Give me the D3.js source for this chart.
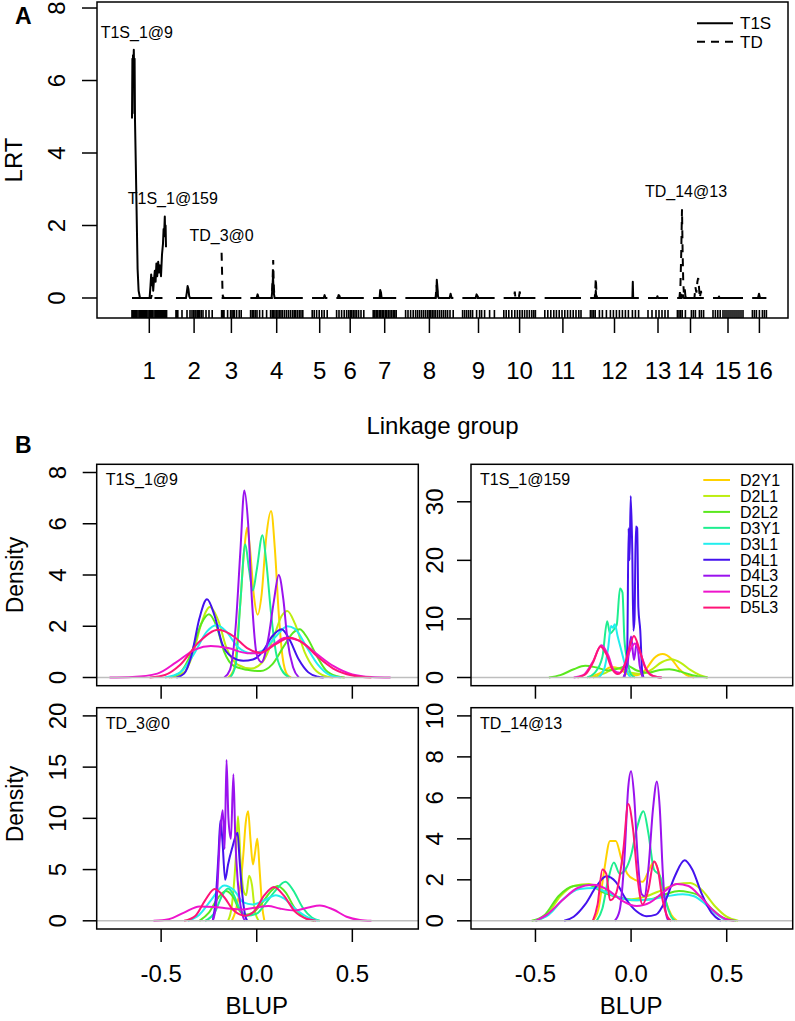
<!DOCTYPE html>
<html><head><meta charset="utf-8">
<script src="https://cdn.jsdelivr.net/npm/d3@7"></script>
<style>
body{margin:0;background:#fff}
svg{display:block}
text{font-family:"Liberation Sans",Arial,Helvetica,sans-serif;fill:#000}
</style>
</head><body>
<svg id="c" width="795" height="1021"></svg>
<script>
// ---------------- DATA: panel A ----------------
const groups = ["1","2","3","4","5","6","7","8","9","10","11","12","13","14","15","16"];
const groupLengths = [173,181,98,261,75,136,115,238,159,158,181,241,100,131,150,70];
const groupGap = 47;
const lrtTicks = [0,2,4,6,8];
const markerPos = [
 [0,3,6,9,13,18,24,30,36,41,47,52,58,63,69,74,80,86,92,97,103,110,116,121,127,132,138,143,149,154,159,164,169,173],
 [0,3,6,9,30,55,70,80,88,95,100,108,112,118,126,135,150,165,181],
 [0,4,8,12,30,45,52,58,64,75,88,98],
 [0,8,16,24,32,45,60,80,100,108,115,122,130,137,145,152,160,170,180,190,200,210,218,226,235,244,252,261],
 [0,10,22,35,48,60,75],
 [0,12,25,38,50,60,68,76,84,92,100,110,122,136],
 [0,8,15,22,30,38,45,52,60,68,76,84,92,100,108,115],
 [0,12,25,38,50,60,70,80,90,100,110,118,126,134,142,150,160,170,180,190,200,210,222,238],
 [0,10,20,30,40,50,70,85,95,110,135,159],
 [0,12,25,40,55,68,80,92,104,116,128,140,150,158],
 [0,15,30,45,58,72,86,100,114,128,142,156,170,181],
 [0,8,16,24,45,60,80,100,115,130,145,160,175,190,210,225,241],
 [0,20,40,55,70,85,100],
 [0,8,16,24,40,70,80,90,110,120,131],
 [0,12,24,36,50,60,70,80,90,100,110,120,130,140,150],
 [0,10,20,35,50,60,70]
];
const t1sProfile = [
 [[0,4.95],[2,6.6],[3,5.1],[5,6.7],[7,6.3],[9,6.85],[11,6.2],[13,6.6],[15,4.9],[19,3.7],[23,2.4],[28,0.8],[33,0.2],[40,0],[88,0],[92,0.3],[96,0.65],[99,0.35],[103,0.55],[106,0.2],[110,0.5],[114,0.75],[118,0.45],[122,0.95],[126,0.6],[131,1.0],[135,0.7],[140,0.9],[145,0.6],[150,1.2],[155,1.5],[158,1.9],[161,1.8],[164,2.25],[166,1.7],[168,2.0],[170,1.4]],
 [[0,0],[50,0],[54,0.15],[58,0.33],[62,0.25],[66,0.05],[70,0],[181,0]],
 [[0,0],[5,0],[8,0.04],[11,0],[98,0]],
 [[0,0],[30,0],[35,0.1],[40,0],[105,0],[109,0.25],[112,0.6],[114,0.35],[117,0.1],[120,0],[261,0]],
 [[0,0],[58,0],[62,0.08],[66,0],[75,0]],
 [[0,0],[6,0],[10,0.08],[14,0.06],[18,0],[136,0]],
 [[0,0],[32,0],[35,0.22],[39,0.15],[42,0],[115,0]],
 [[0,0],[150,0],[154,0.1],[156,0.5],[159,0.3],[162,0.05],[165,0],[220,0],[225,0.12],[230,0],[238,0]],
 [[0,0],[65,0],[70,0.1],[75,0.05],[80,0],[159,0]],
 [[0,0],[158,0]],
 [[0,0],[181,0]],
 [[0,0],[24,0],[27,0.2],[30,0],[210,0],[212,0.45],[214,0],[241,0]],
 [[0,0],[44,0],[47,0.05],[50,0],[100,0]],
 [[0,0],[15,0],[18,0.1],[22,0],[28,0.08],[32,0],[131,0]],
 [[0,0],[27,0],[30,0.04],[33,0],[150,0]],
 [[0,0],[28,0],[33,0.12],[38,0],[70,0]]
];
const tdProfile = [
 [[0,0],[95,0],[100,0.1],[105,0],[173,0]],
 [[0,0],[181,0]],
 [[0,1.25],[2,0.8],[4,0.3],[6,0.05],[8,0],[98,0]],
 [[0,0],[106,0],[110,0.5],[113,1.05],[116,0.3],[120,0],[261,0]],
 [[0,0],[75,0]],
 [[0,0],[136,0]],
 [[0,0],[115,0]],
 [[0,0],[150,0],[155,0.35],[158,0.2],[161,0],[238,0]],
 [[0,0],[159,0]],
 [[0,0],[52,0],[55,0.18],[58,0],[75,0],[80,0.18],[83,0],[158,0]],
 [[0,0],[181,0]],
 [[0,0],[22,0],[25,0.3],[27,0.55],[30,0.2],[33,0],[241,0]],
 [[0,0],[100,0]],
 [[0,0],[10,0],[15,0.3],[19,1.2],[23,2.45],[26,1.3],[29,0.5],[32,0.15],[36,0.3],[40,0.05],[44,0],[85,0],[90,0.3],[95,0.15],[100,0.45],[104,0.55],[108,0.3],[112,0],[118,0.2],[121,0],[131,0]],
 [[0,0],[150,0]],
 [[0,0],[70,0]]
];
const peakLabels = ["T1S_1@9","T1S_1@159","TD_3@0","TD_14@13"];
const labelGroup = [1,1,3,14];
const labelPos = [9,164,0,23];
const labelLRT = [6.85,2.25,1.25,2.45];
const profileNames = ["T1S","TD"];

// ---------------- DATA: panel B ----------------
const series = ["D2Y1","D2L1","D2L2","D3Y1","D3L1","D4L1","D4L3","D5L2","D5L3"];
const seriesColors = ["#FFD200","#BDEE10","#5AE81E","#1EEE90","#22EEEE","#4412EE","#9A12EE","#EE14CC","#FF1477"];
const panelTitles = ["T1S_1@9","T1S_1@159","TD_3@0","TD_14@13"];
const panelYMax = [8,35,20,10];
const panelYTicks = [[0,2,4,6,8],[0,10,20,30],[0,5,10,15,20],[0,2,4,6,8,10]];
const blupTicks = [-0.5,0.0,0.5];

const densT1S_1_9 = [
 [[-0.15,0],[-0.12,0.3],[-0.09,2.5],[-0.065,5.0],[-0.05,5.85],[-0.035,5.0],[-0.015,3.2],[0.005,2.45],[0.025,3.2],[0.05,5.5],[0.075,6.5],[0.095,5.0],[0.115,2.5],[0.135,0.8],[0.16,0.1],[0.18,0]],
 [[-0.45,0],[-0.38,0.2],[-0.33,1.0],[-0.29,2.1],[-0.245,2.75],[-0.2,2.2],[-0.16,1.2],[-0.1,0.5],[-0.03,0.35],[0.03,0.6],[0.09,1.6],[0.13,2.4],[0.16,2.6],[0.2,2.1],[0.25,1.0],[0.3,0.35],[0.36,0.05],[0.4,0]],
 [[-0.46,0],[-0.4,0.2],[-0.34,1.0],[-0.29,2.1],[-0.25,2.47],[-0.21,2.0],[-0.17,1.0],[-0.12,0.45],[-0.05,0.3],[0.02,0.25],[0.08,0.5],[0.14,1.2],[0.19,1.75],[0.225,1.88],[0.26,1.6],[0.31,0.9],[0.36,0.3],[0.42,0.05],[0.46,0]],
 [[-0.14,0],[-0.11,0.5],[-0.085,3.0],[-0.06,5.2],[-0.04,4.2],[-0.02,3.4],[0.0,4.2],[0.03,5.55],[0.05,4.5],[0.075,2.5],[0.1,1.0],[0.13,0.3],[0.17,0]],
 [[-0.48,0],[-0.4,0.2],[-0.33,0.9],[-0.26,1.8],[-0.21,2.05],[-0.16,1.8],[-0.1,1.2],[-0.03,0.95],[0.03,1.05],[0.1,1.6],[0.16,2.0],[0.2,1.9],[0.26,1.2],[0.32,0.5],[0.38,0.1],[0.44,0]],
 [[-0.42,0],[-0.38,0.15],[-0.34,0.9],[-0.3,2.3],[-0.26,3.05],[-0.22,2.4],[-0.18,1.3],[-0.13,0.8],[-0.07,0.65],[-0.02,0.7],[0.03,1.0],[0.08,1.6],[0.13,1.88],[0.17,1.5],[0.22,0.7],[0.27,0.2],[0.32,0.03],[0.35,0]],
 [[-0.17,0],[-0.14,0.3],[-0.11,2.0],[-0.085,5.0],[-0.065,7.3],[-0.045,6.0],[-0.025,3.0],[0.0,0.9],[0.025,0.6],[0.06,1.5],[0.09,3.0],[0.115,4.0],[0.14,3.0],[0.16,1.5],[0.19,0.4],[0.22,0]],
 [[-0.77,0],[-0.65,0.02],[-0.52,0.15],[-0.42,0.6],[-0.32,1.1],[-0.24,1.23],[-0.15,1.15],[-0.05,0.95],[0.02,0.95],[0.09,1.3],[0.15,1.55],[0.22,1.45],[0.3,1.0],[0.4,0.45],[0.5,0.12],[0.6,0.02],[0.7,0]],
 [[-0.56,0],[-0.48,0.1],[-0.4,0.5],[-0.3,1.4],[-0.2,1.86],[-0.12,1.6],[-0.05,1.15],[0.02,0.97],[0.1,1.3],[0.17,1.55],[0.24,1.35],[0.32,0.8],[0.4,0.35],[0.5,0.08],[0.6,0]]
];
const densT1S_1_159 = [
 [[-0.22,0],[-0.16,0.8],[-0.1,1.8],[-0.06,1.5],[-0.02,0.6],[0.03,0.4],[0.08,1.5],[0.12,3.3],[0.165,4.0],[0.21,3.2],[0.25,1.5],[0.29,0.4],[0.33,0]],
 [[-0.2,0],[-0.14,0.7],[-0.08,1.6],[-0.04,1.4],[0.0,0.8],[0.05,0.6],[0.1,1.2],[0.16,2.6],[0.21,3.1],[0.26,2.5],[0.31,1.3],[0.36,0.4],[0.4,0]],
 [[-0.43,0],[-0.37,0.4],[-0.3,1.4],[-0.24,2.0],[-0.18,1.7],[-0.12,1.2],[-0.06,1.6],[-0.02,2.0],[0.03,1.2],[0.09,0.8],[0.15,1.3],[0.2,1.4],[0.26,1.0],[0.32,0.4],[0.4,0]],
 [[-0.23,0],[-0.19,0.8],[-0.15,3.5],[-0.125,9.6],[-0.11,7.5],[-0.09,8.2],[-0.075,9.0],[-0.058,15.2],[-0.045,14.5],[-0.035,6.5],[-0.02,3.0],[0.0,0.5],[0.02,0]],
 [[-0.17,0],[-0.14,1.5],[-0.12,5.0],[-0.105,8.8],[-0.095,8.5],[-0.085,9.1],[-0.07,7.0],[-0.05,4.5],[-0.03,2.0],[-0.01,0.3],[0.0,0]],
 [[-0.035,0],[-0.02,5],[-0.013,25.5],[-0.008,20],[-0.002,31],[0.006,22],[0.012,8],[0.018,10],[0.025,25.8],[0.032,25.5],[0.038,12],[0.048,8],[0.058,1],[0.065,0]],
 [[-0.04,0],[-0.02,2],[0.0,7],[0.015,3],[0.03,6],[0.045,2],[0.06,0]],
 [[-0.3,0],[-0.25,0.4],[-0.2,2.7],[-0.155,5.5],[-0.12,3.8],[-0.09,1.2],[-0.06,0.8],[-0.03,2.5],[0.0,5.0],[0.02,5.8],[0.05,4.0],[0.08,1.4],[0.12,0.2],[0.16,0]],
 [[-0.28,0],[-0.24,0.5],[-0.2,2.5],[-0.16,5.3],[-0.13,4.0],[-0.1,1.5],[-0.07,0.6],[-0.04,1.5],[-0.01,5.0],[0.015,7.1],[0.04,5.2],[0.07,2.0],[0.1,0.5],[0.14,0.05],[0.16,0]]
];
const densTD_3_0 = [
 [[-0.13,0],[-0.11,1],[-0.085,3.5],[-0.07,6.5],[-0.058,9.5],[-0.045,10.7],[-0.033,8],[-0.02,5.5],[-0.01,6.5],[0.003,8.0],[0.015,5],[0.028,1.5],[0.04,0]],
 [[-0.15,0],[-0.13,1.5],[-0.11,6],[-0.098,10.2],[-0.085,6],[-0.07,3],[-0.055,2.5],[-0.04,4.4],[-0.025,3.5],[-0.01,1],[0.01,0]],
 [[-0.3,0],[-0.25,0.8],[-0.2,2.3],[-0.16,2.9],[-0.12,2.2],[-0.09,1.0],[-0.06,0.6],[-0.02,0.8],[0.03,1.8],[0.08,3.0],[0.11,3.4],[0.15,2.8],[0.2,1.2],[0.25,0.3],[0.3,0]],
 [[-0.27,0],[-0.22,0.8],[-0.18,2.5],[-0.15,3.15],[-0.12,2.5],[-0.09,1.2],[-0.05,0.5],[0.0,0.7],[0.05,1.8],[0.1,3.0],[0.15,3.8],[0.19,3.0],[0.24,1.3],[0.29,0.3],[0.33,0]],
 [[-0.36,0],[-0.3,0.6],[-0.24,2.0],[-0.17,3.45],[-0.12,3.0],[-0.07,1.8],[-0.02,1.6],[0.04,2.0],[0.1,2.5],[0.14,2.2],[0.2,1.2],[0.26,0.4],[0.32,0]],
 [[-0.23,0],[-0.215,2],[-0.2,6.5],[-0.19,9.8],[-0.18,8],[-0.165,4],[-0.15,5.5],[-0.13,7],[-0.1,8.6],[-0.09,6],[-0.075,2.5],[-0.06,0.5],[-0.05,0]],
 [[-0.23,0],[-0.21,2],[-0.19,9],[-0.178,10.8],[-0.168,7],[-0.158,15.7],[-0.148,10],[-0.135,8],[-0.122,14.3],[-0.112,8],[-0.1,4],[-0.085,1.5],[-0.07,0.3],[-0.06,0]],
 [[-0.54,0],[-0.46,0.15],[-0.38,0.8],[-0.3,1.4],[-0.22,1.35],[-0.15,1.2],[-0.08,1.1],[0.0,1.3],[0.06,1.45],[0.12,1.2],[0.2,1.0],[0.27,1.3],[0.33,1.5],[0.4,1.1],[0.47,0.4],[0.54,0.08],[0.6,0]],
 [[-0.38,0],[-0.32,0.5],[-0.27,2.0],[-0.22,3.1],[-0.17,2.3],[-0.12,1.0],[-0.06,0.5],[-0.01,1.0],[0.04,2.5],[0.09,3.3],[0.14,2.5],[0.2,0.9],[0.26,0.2],[0.31,0]]
];
const densTD_14_13 = [
 [[-0.2,0],[-0.17,0.6],[-0.14,2.5],[-0.11,3.9],[-0.08,3.9],[-0.05,3.0],[-0.02,2.3],[0.02,2.0],[0.06,1.9],[0.09,2.4],[0.12,2.9],[0.15,2.2],[0.18,1.0],[0.21,0.3],[0.24,0]],
 [[-0.5,0],[-0.44,0.3],[-0.37,1.2],[-0.3,1.7],[-0.22,1.8],[-0.15,1.5],[-0.08,1.2],[0.0,1.05],[0.08,1.2],[0.16,1.5],[0.24,1.8],[0.31,1.85],[0.37,1.5],[0.44,0.7],[0.5,0.2],[0.56,0]],
 [[-0.52,0],[-0.45,0.3],[-0.38,1.2],[-0.3,1.7],[-0.22,1.75],[-0.15,1.4],[-0.07,1.15],[0.02,1.0],[0.1,1.05],[0.18,1.3],[0.25,1.45],[0.3,1.4],[0.36,1.2],[0.42,0.6],[0.48,0.15],[0.55,0]],
 [[-0.18,0],[-0.15,0.6],[-0.12,2.0],[-0.09,2.85],[-0.06,2.3],[-0.03,2.5],[0.0,3.2],[0.03,4.5],[0.065,5.35],[0.09,4.3],[0.12,2.5],[0.15,2.2],[0.18,1.0],[0.21,0.2],[0.23,0]],
 [[-0.5,0],[-0.43,0.3],[-0.35,1.1],[-0.27,1.55],[-0.19,1.6],[-0.12,1.35],[-0.05,1.1],[0.03,1.0],[0.11,1.05],[0.19,1.2],[0.27,1.3],[0.33,1.2],[0.39,0.8],[0.45,0.3],[0.5,0]],
 [[-0.35,0],[-0.3,0.2],[-0.24,0.8],[-0.18,1.7],[-0.13,2.17],[-0.08,1.9],[-0.03,1.1],[0.03,0.45],[0.08,0.22],[0.13,0.3],[0.18,1.0],[0.23,2.2],[0.28,2.95],[0.32,2.5],[0.37,1.3],[0.42,0.4],[0.47,0]],
 [[-0.085,0],[-0.06,0.5],[-0.035,3.0],[-0.015,6.5],[0.0,7.3],[0.015,6.2],[0.035,3.0],[0.055,1.3],[0.07,1.2],[0.09,2.5],[0.115,5.5],[0.135,6.8],[0.15,5.5],[0.165,2.5],[0.18,0.5],[0.195,0]],
 [[-0.5,0],[-0.44,0.3],[-0.36,1.0],[-0.28,1.6],[-0.2,1.76],[-0.12,1.5],[-0.05,1.0],[0.03,0.72],[0.1,0.9],[0.17,1.4],[0.24,1.8],[0.3,1.7],[0.37,1.1],[0.43,0.5],[0.49,0.1],[0.54,0]],
 [[-0.2,0],[-0.175,0.8],[-0.15,2.5],[-0.13,2.3],[-0.11,1.0],[-0.08,1.3],[-0.04,3.5],[-0.015,5.7],[0.01,4.5],[0.035,2.0],[0.06,0.8],[0.09,1.5],[0.12,2.9],[0.14,2.5],[0.165,1.0],[0.19,0.2],[0.21,0]]
];
const panelCurves = [densT1S_1_9, densT1S_1_159, densTD_3_0, densTD_14_13];

// ---------------- DRAWING ----------------
const svg = d3.select("#c");
const FONT = 24;

// ===== Panel A =====
const A = {x0:97, x1:788, y0:2, y1:318};
const offsets = [];
{ let acc = 0; groupLengths.forEach(L => { offsets.push(acc); acc += L + groupGap; }); }
const xA = d3.scaleLinear().domain([-175, 3280]).range([A.x0, A.x1]);
const yA = d3.scaleLinear().domain([-0.552, 8.166]).range([A.y1, A.y0]);
const gA = svg.append("g");

// rug
markerPos.forEach((arr, gi) => {
  gA.selectAll(null).data(arr).enter().append("line")
    .attr("x1", d => xA(offsets[gi] + d)).attr("x2", d => xA(offsets[gi] + d))
    .attr("y1", A.y1 - 8).attr("y2", A.y1)
    .attr("stroke", "#000").attr("stroke-width", 1.6);
});

const lineA = d3.line().x(d => d[0]).y(d => yA(d[1]));
t1sProfile.forEach((prof, gi) => {
  gA.append("path").datum(prof.map(p => [xA(offsets[gi] + p[0]), p[1]]))
    .attr("d", lineA).attr("fill", "none").attr("stroke", "#000").attr("stroke-width", 2)
    .attr("stroke-linejoin", "round");
});
tdProfile.forEach((prof, gi) => {
  gA.append("path").datum(prof.map(p => [xA(offsets[gi] + p[0]), p[1]]))
    .attr("d", lineA).attr("fill", "none").attr("stroke", "#000").attr("stroke-width", 2)
    .attr("stroke-dasharray", "8,6");
});

// box
gA.append("rect").attr("x", A.x0).attr("y", A.y0).attr("width", A.x1 - A.x0).attr("height", A.y1 - A.y0)
  .attr("fill", "none").attr("stroke", "#000").attr("stroke-width", 1.5);

// y axis
const yAxA = gA.append("g");
yAxA.selectAll(null).data(lrtTicks).enter().append("line")
  .attr("x1", A.x0 - 15).attr("x2", A.x0).attr("y1", d => yA(d)).attr("y2", d => yA(d))
  .attr("stroke", "#000").attr("stroke-width", 1.5);
yAxA.selectAll(null).data(lrtTicks).enter().append("text")
  .attr("transform", d => `translate(${A.x0 - 32},${yA(d)}) rotate(-90)`)
  .attr("text-anchor", "middle").attr("font-size", FONT).text(d => d);
gA.append("text").attr("transform", `translate(22,${(A.y0 + A.y1) / 2}) rotate(-90)`)
  .attr("text-anchor", "middle").attr("font-size", FONT).text("LRT");

// x axis
const mids = groups.map((g, i) => offsets[i] + groupLengths[i] / 2);
gA.selectAll(null).data(mids).enter().append("line")
  .attr("x1", d => xA(d)).attr("x2", d => xA(d)).attr("y1", A.y1).attr("y2", A.y1 + 15)
  .attr("stroke", "#000").attr("stroke-width", 1.5);
gA.selectAll(null).data(groups).enter().append("text")
  .attr("x", (d, i) => xA(mids[i])).attr("y", 379)
  .attr("text-anchor", "middle").attr("font-size", FONT).text(d => d);
gA.append("text").attr("x", (A.x0 + A.x1) / 2).attr("y", 434)
  .attr("text-anchor", "middle").attr("font-size", FONT).text("Linkage group");

// peak labels
const labelDx = [3, 8, 0, 4];
peakLabels.forEach((lab, i) => {
  gA.append("text")
    .attr("x", xA(offsets[labelGroup[i] - 1] + labelPos[i]) + labelDx[i])
    .attr("y", yA(labelLRT[i]) - 12)
    .attr("text-anchor", "middle").attr("font-size", 16).text(lab);
});

// legend A
profileNames.forEach((nm, i) => {
  const yy = 23.3 + i * 18.4;
  gA.append("line").attr("x1", 697).attr("x2", 733).attr("y1", yy).attr("y2", yy)
    .attr("stroke", "#000").attr("stroke-width", 2)
    .attr("stroke-dasharray", i === 1 ? "8,6" : null);
  gA.append("text").attr("x", 740).attr("y", yy).attr("dy", "0.36em")
    .attr("font-size", 17).text(nm);
});

svg.append("text").attr("x", 15).attr("y", 24).attr("font-size", 23).attr("font-weight", "bold").text("A");
svg.append("text").attr("x", 15).attr("y", 453).attr("font-size", 23).attr("font-weight", "bold").text("B");

// ===== Panel B =====
const cols = [{x0:96.7, x1:418.3, lab:31}, {x0:471, x1:792.7, lab:28}];
const rows = [{y0:464.3, y1:685.7}, {y0:707.7, y1:929}];
const lineB = d3.line().curve(d3.curveMonotoneX);

panelCurves.forEach((curves, p) => {
  const c = cols[p % 2], r = rows[Math.floor(p / 2)];
  const ymax = panelYMax[p];
  const x = d3.scaleLinear().domain([-0.837, 0.845]).range([c.x0, c.x1]);
  const y = d3.scaleLinear().domain([-0.04 * ymax, 1.04 * ymax]).range([r.y1, r.y0]);
  const g = svg.append("g");
  const cid = "clip" + p;
  g.append("clipPath").attr("id", cid).append("rect")
    .attr("x", c.x0).attr("y", r.y0).attr("width", c.x1 - c.x0).attr("height", r.y1 - r.y0);
  const plot = g.append("g").attr("clip-path", `url(#${cid})`);
  curves.forEach((pts, s) => {
    plot.append("path").attr("d", lineB(pts.map(q => [x(q[0]), y(q[1])])))
      .attr("fill", "none").attr("stroke", seriesColors[s]).attr("stroke-width", 2)
      .attr("stroke-linejoin", "round");
  });
  plot.append("line").attr("x1", c.x0).attr("x2", c.x1).attr("y1", y(0)).attr("y2", y(0))
    .attr("stroke", "#BEBEBE").attr("stroke-width", 1.5);
  g.append("rect").attr("x", c.x0).attr("y", r.y0).attr("width", c.x1 - c.x0).attr("height", r.y1 - r.y0)
    .attr("fill", "none").attr("stroke", "#000").attr("stroke-width", 1.5);
  // y axis
  g.selectAll(null).data(panelYTicks[p]).enter().append("line")
    .attr("x1", c.x0 - 14).attr("x2", c.x0).attr("y1", d => y(d)).attr("y2", d => y(d))
    .attr("stroke", "#000").attr("stroke-width", 1.5);
  g.selectAll(null).data(panelYTicks[p]).enter().append("text")
    .attr("transform", d => `translate(${c.x0 - c.lab},${y(d)}) rotate(-90)`)
    .attr("text-anchor", "middle").attr("font-size", FONT).text(d => d);
  // x axis
  g.selectAll(null).data(blupTicks).enter().append("line")
    .attr("x1", d => x(d)).attr("x2", d => x(d)).attr("y1", r.y1).attr("y2", r.y1 + 13)
    .attr("stroke", "#000").attr("stroke-width", 1.5);
  if (p >= 2) {
    g.selectAll(null).data(blupTicks).enter().append("text")
      .attr("x", d => x(d)).attr("y", 982).attr("text-anchor", "middle").attr("font-size", FONT)
      .text(d => d3.format(".1f")(d).replace("−", "-"));
    g.append("text").attr("x", x(0)).attr("y", 1014).attr("text-anchor", "middle")
      .attr("font-size", FONT).text("BLUP");
  }
  // title
  g.append("text").attr("x", c.x0 + 9).attr("y", r.y0 + 21).attr("font-size", 16).text(panelTitles[p]);
  // legend in panel 2
  if (p === 1) {
    series.forEach((s, i) => {
      const yy = 480 + i * 15.95;
      g.append("line").attr("x1", 703.3).attr("x2", 730).attr("y1", yy).attr("y2", yy)
        .attr("stroke", seriesColors[i]).attr("stroke-width", 2);
      g.append("text").attr("x", 740).attr("y", yy).attr("dy", "0.36em").attr("font-size", 16).text(s);
    });
  }
});
svg.append("text").attr("transform", `translate(23,575) rotate(-90)`)
  .attr("text-anchor", "middle").attr("font-size", 23).text("Density");
svg.append("text").attr("transform", `translate(23,804) rotate(-90)`)
  .attr("text-anchor", "middle").attr("font-size", 23).text("Density");
</script>
</body></html>
